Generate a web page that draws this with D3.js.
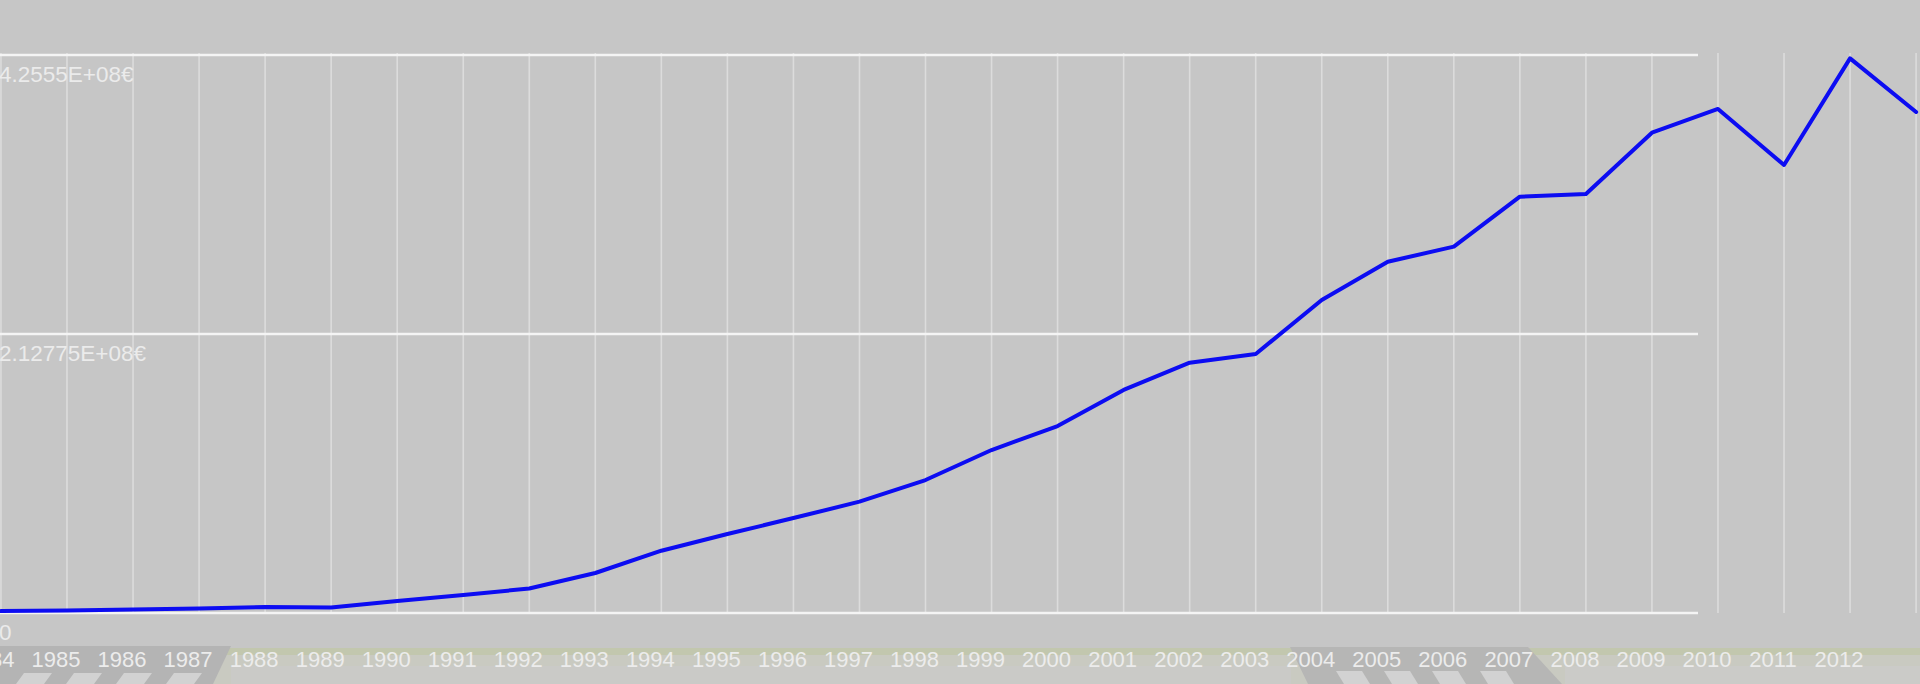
<!DOCTYPE html>
<html>
<head>
<meta charset="utf-8">
<script src="https://cdn.jsdelivr.net/npm/d3@7"></script>
<style>
html,body{margin:0;padding:0;background:#c6c6c6;overflow:hidden}
svg{display:block}
</style>
</head>
<body>
<svg id="chart" width="1920" height="684"></svg>
<script>
// ---- data ----
const years = [1984,1985,1986,1987,1988,1989,1990,1991,1992,1993,1994,1995,1996,1997,1998,1999,2000,2001,2002,2003,2004,2005,2006,2007,2008,2009,2010,2011,2012,2013];
const values = [1.5e6,1.9e6,2.7e6,3.4e6,4.6e6,4.2e6,9.2e6,1.37e7,1.87e7,3.05e7,4.75e7,6.02e7,7.24e7,8.49e7,1.014e8,1.243e8,1.426e8,1.701e8,1.909e8,1.975e8,2.387e8,2.679e8,2.794e8,3.175e8,3.195e8,3.663e8,3.844e8,3.417e8,4.230e8,3.821e8];
const yTickValues = [0, 212775000, 425550000];
const yTickLabels = ["0", "2.12775E+08€", "4.2555E+08€"];
const labelYears = [1984,1985,1986,1987,1988,1989,1990,1991,1992,1993,1994,1995,1996,1997,1998,1999,2000,2001,2002,2003,2004,2005,2006,2007,2008,2009,2010,2011,2012];
const yearLabels = labelYears.map(String);

// ---- layout ----
const W = 1920, H = 684;
const svg = d3.select("#chart");
const x = d3.scaleLinear().domain([1984, 2013]).range([0.96, 1916.1]);
const y = d3.scaleLinear().domain([0, 425550000]).range([613, 55]);

// background
svg.append("rect").attr("width", W).attr("height", H).attr("fill", "#c6c6c6");

// decorative bottom strip (faded photo backdrop)
const strip = svg.append("g");
strip.append("rect").attr("x", 0).attr("y", 648).attr("width", W).attr("height", 36).attr("fill", "#c9cac1");
strip.append("rect").attr("x", 0).attr("y", 648).attr("width", W).attr("height", 7).attr("fill", "#c2c7ae");
strip.append("polygon").attr("points", "0,646 231,646 213,684 0,684").attr("fill", "#b4b4b4");
strip.append("polygon").attr("points", "1290,647 1528,647 1562,684 1308,684").attr("fill", "#b6b6b5");
const stripeXs = [10, 60, 110, 160];
stripeXs.forEach(s => strip.append("polygon")
  .attr("points", `${s+14},673 ${s+42},673 ${s+34},684 ${s+6},684`).attr("fill", "#d2d2d2"));
const stripeXs2 = [1330, 1378, 1426, 1474];
stripeXs2.forEach(s => strip.append("polygon")
  .attr("points", `${s+6},671 ${s+32},671 ${s+40},684 ${s+14},684`).attr("fill", "#d2d2d2"));
strip.append("rect").attr("x", 231).attr("y", 666).attr("width", 1060).attr("height", 18).attr("fill", "#cacac7");
strip.append("rect").attr("x", 1565).attr("y", 666).attr("width", 355).attr("height", 18).attr("fill", "#cbcbc8");

// vertical grid lines
svg.append("g").selectAll("line").data(years).join("line")
  .attr("x1", d => x(d)).attr("x2", d => x(d))
  .attr("y1", 53).attr("y2", 613)
  .attr("stroke", "#dcdcdc").attr("stroke-width", 1.6);

// horizontal grid lines
svg.append("g").selectAll("line").data(yTickValues).join("line")
  .attr("x1", 0).attr("x2", 1698)
  .attr("y1", d => y(d)).attr("y2", d => y(d))
  .attr("stroke", "#f4f4f4").attr("stroke-width", 2.5);

// y labels
svg.append("g").selectAll("text").data(yTickValues).join("text")
  .attr("x", -1).attr("y", d => y(d) + 27)
  .attr("font-family", "Liberation Sans, Arial, sans-serif")
  .attr("font-size", 22.5)
  .attr("fill", "#ebebeb")
  .text((d, i) => yTickLabels[i]);

// x labels
svg.append("g").selectAll("text").data(labelYears).join("text")
  .attr("x", d => x(d) - 11).attr("y", 667)
  .attr("text-anchor", "middle")
  .attr("font-family", "Liberation Sans, Arial, sans-serif")
  .attr("font-size", 22)
  .attr("fill", "#ececec")
  .text((d, i) => yearLabels[i]);

// line
const line = d3.line().x((d, i) => x(years[i])).y(d => y(d));
svg.append("path").datum(values)
  .attr("d", line)
  .attr("fill", "none")
  .attr("stroke", "#0c0cf2")
  .attr("stroke-width", 4)
  .attr("stroke-linejoin", "round")
  .attr("stroke-linecap", "round");
</script>
</body>
</html>
